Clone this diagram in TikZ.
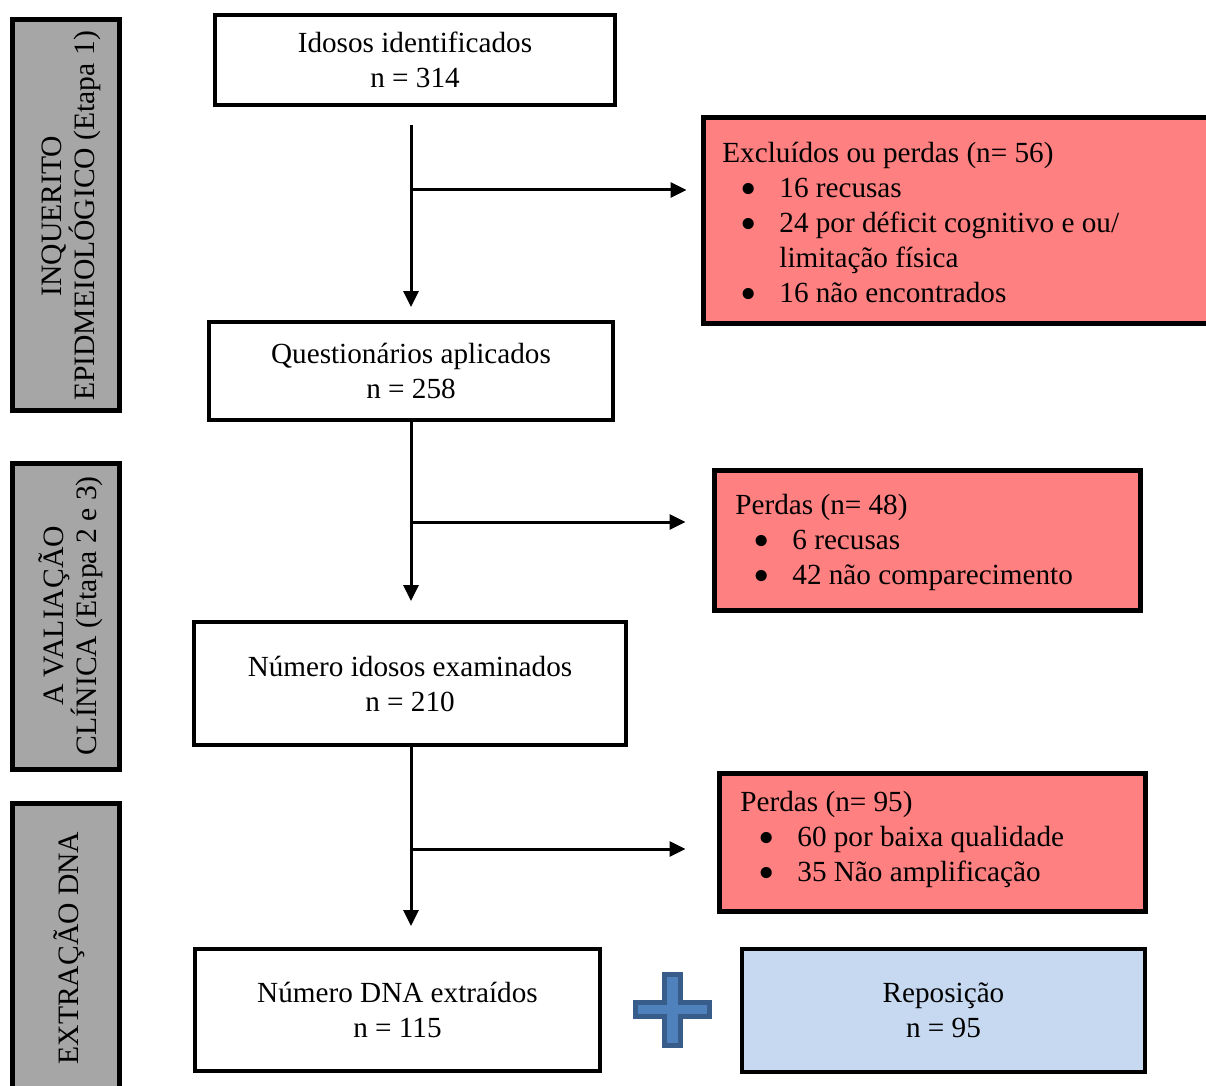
\documentclass[tikz,border=0pt]{standalone}
\usepackage{fontspec}
\setmainfont{Liberation Serif}
\usetikzlibrary{arrows.meta}
\definecolor{sidegray}{HTML}{A6A6A6}
\definecolor{salmon}{HTML}{FF8080}
\definecolor{repblue}{HTML}{C6D9F1}
\definecolor{plusfill}{HTML}{4F81BD}
\definecolor{plusline}{HTML}{385D8A}
\newcommand{\bul}{\hspace*{9pt}\makebox[19.5pt][l]{\smash{\raisebox{-3.8pt}{\scalebox{1.6}{•}}}}}
\newcommand{\ind}{\hspace*{28.5pt}}
\begin{document}
\begin{tikzpicture}[x=0.5pt,y=-0.5pt,
  every node/.style={font=\fontsize{14.6}{17.5}\selectfont},
  whitebox/.style={draw, line width=2pt, fill=white, inner sep=0pt, align=center},
  redbox/.style={draw, line width=2.5pt, fill=salmon, inner sep=0pt},
  bluebox/.style={draw, line width=2pt, fill=repblue, inner sep=0pt, align=center},
  sidebox/.style={draw, line width=2.5pt, fill=sidegray, inner sep=0pt, rotate=90},
  sidetext/.style={inner sep=0pt, align=center, rotate=90, font=\fontsize{14.8}{16.5}\selectfont},
  listtext/.style={anchor=west, align=left, inner sep=0pt},
  arr/.style={line width=1.5pt, -{Triangle[length=8pt,width=7.5pt]}}
]
\useasboundingbox (0,0) rectangle (1206,1086);
\clip (0,0) rectangle (1206,1086);

% side boxes
\node[sidebox, minimum width=195.5pt, minimum height=53.5pt] (s1) at (66,215) {};
\node[sidetext] (s1t) at (71,216) {INQUERITO\\EPIDMEIOLÓGICO (Etapa 1)};
\node[sidebox, minimum width=153pt, minimum height=53.5pt] (s2) at (66,616.5) {};
\node[sidetext] (s2t) at (71,616) {A VALIAÇÃO\\CLÍNICA (Etapa 2 e 3)};
\node[sidebox, minimum width=144.5pt, minimum height=53.5pt] (s3) at (66,948) {};
\node[sidetext] (s3t) at (69,948) {EXTRAÇÃO DNA};

% main boxes
\node[whitebox, minimum width=200pt, minimum height=45pt] (b1) at (415,60)
  {Idosos identificados\\n = 314};
\node[whitebox, minimum width=202pt, minimum height=49pt] (b2) at (411,371)
  {Questionários aplicados\\n = 258};
\node[whitebox, minimum width=216pt, minimum height=61.5pt] (b3) at (410,683.5)
  {Número idosos examinados\\n = 210};
\node[whitebox, minimum width=202.5pt, minimum height=61pt] (b4) at (397.5,1010)
  {Número DNA extraídos\\n = 115};
\node[bluebox, minimum width=201.5pt, minimum height=61.5pt] (rep) at (943.5,1010.5)
  {Reposição\\n = 95};

% red boxes
\node[redbox, minimum width=255pt, minimum height=103pt] (ex) at (958,220.5) {};
\node[listtext] (ext) at (722,222)
  {Excluídos ou perdas (n= 56)\\
   \bul 16 recusas\\
   \bul 24 por déficit cognitivo e ou/\\
   \ind limitação física\\
   \bul 16 não encontrados};
\node[redbox, minimum width=213pt, minimum height=70pt] (p1) at (927.5,540.5) {};
\node[listtext] (p1t) at (735,542)
  {Perdas (n= 48)\\
   \bul 6 recusas\\
   \bul 42 não comparecimento};
\node[redbox, minimum width=213pt, minimum height=69pt] (p2) at (932.5,842.5) {};
\node[listtext] (p2t) at (740,839)
  {Perdas (n= 95)\\
   \bul 60 por baixa qualidade\\
   \bul 35 Não amplificação};

% spine arrows
\draw[arr, shorten <=9pt, shorten >=6.5pt] (b2.north |- b1.south) -- (b2.north);
\draw[arr, shorten >=9.5pt] (b2.south) -- (b2.south |- b3.north);
\draw[arr, shorten >=10.5pt] (b2.south |- b3.south) -- (b2.south |- b4.north);

% branch points
\coordinate (j1) at (411,190);
\coordinate (j2) at (411,522);
\coordinate (j3) at (411,849);
\draw[arr, shorten >=7pt] (j1) -- (j1 -| ex.west);
\draw[arr, shorten >=13.25pt] (j2) -- (j2 -| p1.west);
\draw[arr, shorten >=15.75pt] (j3) -- (j3 -| p2.west);

% plus sign
\draw[line width=2.5pt, draw=plusline, fill=plusfill]
  (664.5,974.5) -- (680.5,974.5) -- (680.5,1002.5) -- (709.5,1002.5) -- (709.5,1016.5)
  -- (680.5,1016.5) -- (680.5,1045.5) -- (664.5,1045.5) -- (664.5,1016.5)
  -- (635.5,1016.5) -- (635.5,1002.5) -- (664.5,1002.5) -- cycle;
\end{tikzpicture}
\end{document}
